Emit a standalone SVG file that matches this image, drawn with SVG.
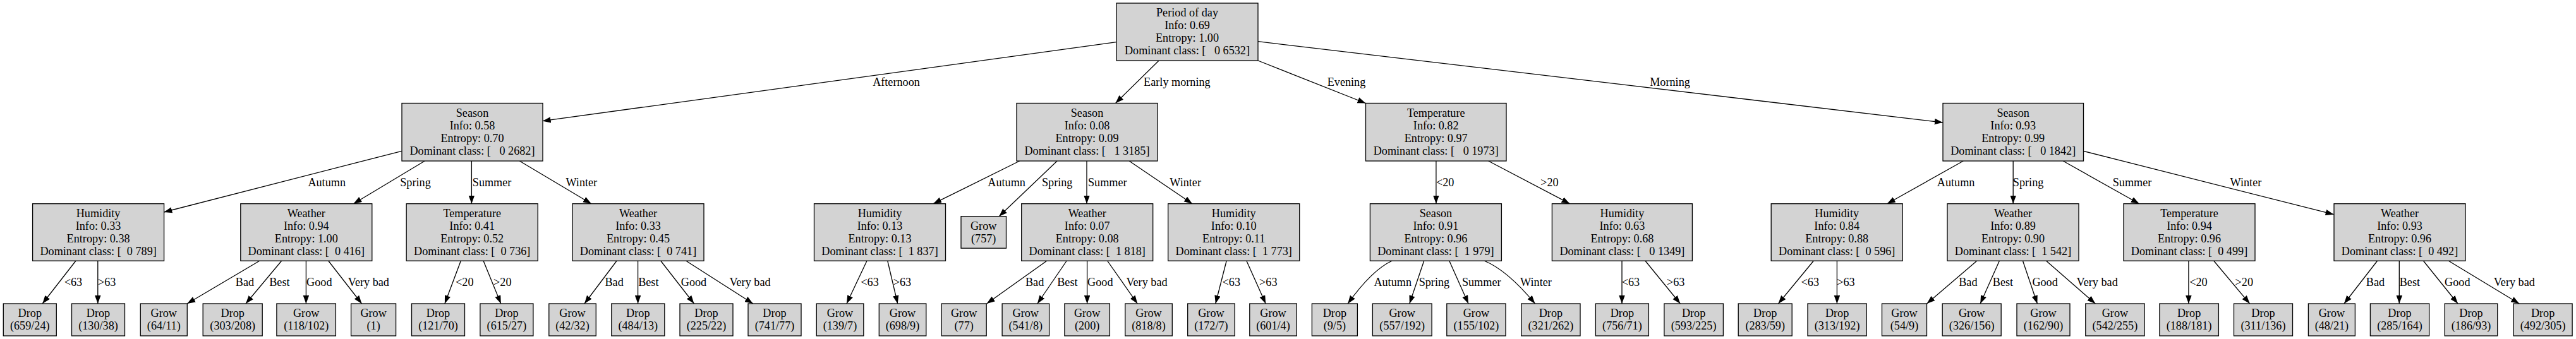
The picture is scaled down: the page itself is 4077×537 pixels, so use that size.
<svg xmlns="http://www.w3.org/2000/svg" width="4077" height="537" viewBox="0 0 4077 537">
<style>
.n rect{fill:#d3d3d3;stroke:#000;stroke-width:1.3}
text{font-family:"Liberation Serif","Times New Roman",serif;font-size:18.2px;text-anchor:middle;fill:#000}
.e path{stroke:#000;stroke-width:1.3;fill:none;marker-end:url(#ah)}
</style>
<defs>
<marker id="ah" markerUnits="userSpaceOnUse" markerWidth="14" markerHeight="10" refX="13" refY="4.75" orient="auto"><path d="M0,0 L13,4.75 L0,9.5 z" fill="#000"/></marker>
</defs>
<rect width="4077" height="537" fill="#fff"/>
<g id="edges" class="e">
<path d="M1766.8,66.7 L858.7,191.7"/>
<path d="M1833.6,96.5 L1765.5,163.5"/>
<path d="M1991,96 L2161.4,163.5"/>
<path d="M1991,65.7 L3074.8,194"/>
<path d="M635.8,239.3 L259.4,336"/>
<path d="M672.2,255 L559.5,322.7"/>
<path d="M746.4,255 L746.4,322.7"/>
<path d="M822.3,255 L935.9,322.7"/>
<path d="M120.1,413 L67.2,481"/>
<path d="M154.8,413 L154.8,481"/>
<path d="M411.1,413 L296.2,481"/>
<path d="M445.8,413 L389,481"/>
<path d="M484.4,413 L484.4,481"/>
<path d="M519.6,413 L572.5,481"/>
<path d="M729.4,413 L703.9,481"/>
<path d="M765,413 L792.8,481"/>
<path d="M976.2,413 L925,481"/>
<path d="M1009.6,413 L1009.6,481"/>
<path d="M1045.6,413 L1098.5,481"/>
<path d="M1085.5,413 L1191.8,481"/>
<path d="M1613.7,255 L1477.1,322.7"/>
<path d="M1673.1,255 L1581.2,342.7"/>
<path d="M1720,255 L1720,322.7"/>
<path d="M1787.2,255 L1887,322.7"/>
<path d="M1372.1,413 L1340,481"/>
<path d="M1404.7,413 L1420.7,481"/>
<path d="M1657,413 L1561.7,481"/>
<path d="M1688.3,413 L1641.9,481"/>
<path d="M1720.6,413 L1720.6,481"/>
<path d="M1752.5,413 L1800.2,481"/>
<path d="M1941.2,413 L1923.8,481"/>
<path d="M1972.8,413 L2003.2,481"/>
<path d="M2272.9,255 L2272.9,322.7"/>
<path d="M2355.7,255 L2484.5,322.7"/>
<path d="M2203.5,413 Q2171.6,427.4 2133.2,481"/>
<path d="M2253.8,413 L2230.8,481"/>
<path d="M2293.7,413 L2324,481"/>
<path d="M2348.8,413 Q2384.9,427.4 2429.5,481"/>
<path d="M2567,413 L2567,481"/>
<path d="M2603.8,413 L2659.3,481"/>
<path d="M3107.3,255 L2986.7,322.7"/>
<path d="M3186.2,255 L3186.2,322.7"/>
<path d="M3265.2,255 L3385.7,322.7"/>
<path d="M3297.3,239.3 L3693.6,339.7"/>
<path d="M2870.5,413 L2814.5,481"/>
<path d="M2907.4,413 L2907.4,481"/>
<path d="M3129,413 L3049.6,481"/>
<path d="M3164.5,413 L3134.2,481"/>
<path d="M3201.4,413 L3224.4,481"/>
<path d="M3238.3,413 L3316.3,481"/>
<path d="M3463.9,413 L3463.9,481"/>
<path d="M3503.6,413 L3560.6,481"/>
<path d="M3762.7,413 L3710,481"/>
<path d="M3797.3,413 L3797.3,481"/>
<path d="M3835.3,413 L3890,481"/>
<path d="M3875,413 L3987.2,481"/>
</g>
<g id="edge-labels">
<text x="1418.5" y="135.5">Afternoon</text>
<text x="1862.9" y="135.5">Early morning</text>
<text x="2131" y="135.5">Evening</text>
<text x="2643" y="135.5">Morning</text>
<text x="517.2" y="295">Autumn</text>
<text x="657.5" y="295">Spring</text>
<text x="778.6" y="295">Summer</text>
<text x="920.3" y="295">Winter</text>
<text x="1593.1" y="295">Autumn</text>
<text x="1673.2" y="295">Spring</text>
<text x="1752.8" y="295">Summer</text>
<text x="1876.1" y="295">Winter</text>
<text x="2287.2" y="295">&lt;20</text>
<text x="2452.5" y="295">&gt;20</text>
<text x="3095.6" y="295">Autumn</text>
<text x="3210.1" y="295">Spring</text>
<text x="3374.5" y="295">Summer</text>
<text x="3554.4" y="295">Winter</text>
<text x="116" y="452.5">&lt;63</text>
<text x="169.2" y="452.5">&gt;63</text>
<text x="387.5" y="452.5">Bad</text>
<text x="442.4" y="452.5">Best</text>
<text x="505.3" y="452.5">Good</text>
<text x="583.4" y="452.5">Very bad</text>
<text x="735.3" y="452.5">&lt;20</text>
<text x="795.3" y="452.5">&gt;20</text>
<text x="972.1" y="452.5">Bad</text>
<text x="1026.3" y="452.5">Best</text>
<text x="1098" y="452.5">Good</text>
<text x="1187" y="452.5">Very bad</text>
<text x="1376.6" y="452.5">&lt;63</text>
<text x="1427.9" y="452.5">&gt;63</text>
<text x="1637.6" y="452.5">Bad</text>
<text x="1689.4" y="452.5">Best</text>
<text x="1741.3" y="452.5">Good</text>
<text x="1815" y="452.5">Very bad</text>
<text x="1948.8" y="452.5">&lt;63</text>
<text x="2007.3" y="452.5">&gt;63</text>
<text x="2204.2" y="452.5">Autumn</text>
<text x="2269.9" y="452.5">Spring</text>
<text x="2344.7" y="452.5">Summer</text>
<text x="2431" y="452.5">Winter</text>
<text x="2581" y="452.5">&lt;63</text>
<text x="2652.2" y="452.5">&gt;63</text>
<text x="2864.8" y="452.5">&lt;63</text>
<text x="2921.5" y="452.5">&gt;63</text>
<text x="3114.9" y="452.5">Bad</text>
<text x="3170" y="452.5">Best</text>
<text x="3236.6" y="452.5">Good</text>
<text x="3319.2" y="452.5">Very bad</text>
<text x="3479.5" y="452.5">&lt;20</text>
<text x="3551.8" y="452.5">&gt;20</text>
<text x="3759.5" y="452.5">Bad</text>
<text x="3813.9" y="452.5">Best</text>
<text x="3889.3" y="452.5">Good</text>
<text x="3979.3" y="452.5">Very bad</text>
</g>
<g id="root" class="n"><rect x="1767" y="5" width="224" height="91"/><text x="1879" y="26">Period of day</text><text x="1879" y="46">Info: 0.69</text><text x="1879" y="66">Entropy: 1.00</text><text x="1879" y="86" xml:space="preserve">Dominant class: [   0 6532]</text></g>
<g id="n_aft" class="n"><rect x="636" y="163.5" width="223" height="91.5"/><text x="747.5" y="184.7">Season</text><text x="747.5" y="204.7">Info: 0.58</text><text x="747.5" y="224.7">Entropy: 0.70</text><text x="747.5" y="244.7" xml:space="preserve">Dominant class: [   0 2682]</text></g>
<g id="n_em" class="n"><rect x="1609" y="163.5" width="223" height="91.5"/><text x="1720.5" y="184.7">Season</text><text x="1720.5" y="204.7">Info: 0.08</text><text x="1720.5" y="224.7">Entropy: 0.09</text><text x="1720.5" y="244.7" xml:space="preserve">Dominant class: [   1 3185]</text></g>
<g id="n_eve" class="n"><rect x="2161.5" y="163.5" width="222.5" height="91.5"/><text x="2272.7" y="184.7">Temperature</text><text x="2272.7" y="204.7">Info: 0.82</text><text x="2272.7" y="224.7">Entropy: 0.97</text><text x="2272.7" y="244.7" xml:space="preserve">Dominant class: [   0 1973]</text></g>
<g id="n_mor" class="n"><rect x="3075" y="163.5" width="222.5" height="91.5"/><text x="3186.2" y="184.7">Season</text><text x="3186.2" y="204.7">Info: 0.93</text><text x="3186.2" y="224.7">Entropy: 0.99</text><text x="3186.2" y="244.7" xml:space="preserve">Dominant class: [   0 1842]</text></g>
<g id="n_a1" class="n"><rect x="51.6" y="322.7" width="208" height="90.5"/><text x="155.6" y="343.5">Humidity</text><text x="155.6" y="363.5">Info: 0.33</text><text x="155.6" y="383.5">Entropy: 0.38</text><text x="155.6" y="403.5" xml:space="preserve">Dominant class: [  0 789]</text></g>
<g id="n_a2" class="n"><rect x="380.8" y="322.7" width="208" height="90.5"/><text x="484.8" y="343.5">Weather</text><text x="484.8" y="363.5">Info: 0.94</text><text x="484.8" y="383.5">Entropy: 1.00</text><text x="484.8" y="403.5" xml:space="preserve">Dominant class: [  0 416]</text></g>
<g id="n_a3" class="n"><rect x="643.2" y="322.7" width="208" height="90.5"/><text x="747.2" y="343.5">Temperature</text><text x="747.2" y="363.5">Info: 0.41</text><text x="747.2" y="383.5">Entropy: 0.52</text><text x="747.2" y="403.5" xml:space="preserve">Dominant class: [  0 736]</text></g>
<g id="n_a4" class="n"><rect x="906" y="322.7" width="208" height="90.5"/><text x="1010" y="343.5">Weather</text><text x="1010" y="363.5">Info: 0.33</text><text x="1010" y="383.5">Entropy: 0.45</text><text x="1010" y="403.5" xml:space="preserve">Dominant class: [  0 741]</text></g>
<g id="n_e1" class="n"><rect x="1288.5" y="322.7" width="208" height="90.5"/><text x="1392.5" y="343.5">Humidity</text><text x="1392.5" y="363.5">Info: 0.13</text><text x="1392.5" y="383.5">Entropy: 0.13</text><text x="1392.5" y="403.5" xml:space="preserve">Dominant class: [  1 837]</text></g>
<g id="n_e2" class="n"><rect x="1521" y="342.7" width="71.5" height="50.5"/><text x="1556.7" y="363.5">Grow</text><text x="1556.7" y="383.5">(757)</text></g>
<g id="n_e3" class="n"><rect x="1616.7" y="322.7" width="208" height="90.5"/><text x="1720.7" y="343.5">Weather</text><text x="1720.7" y="363.5">Info: 0.07</text><text x="1720.7" y="383.5">Entropy: 0.08</text><text x="1720.7" y="403.5" xml:space="preserve">Dominant class: [  1 818]</text></g>
<g id="n_e4" class="n"><rect x="1848.7" y="322.7" width="208" height="90.5"/><text x="1952.7" y="343.5">Humidity</text><text x="1952.7" y="363.5">Info: 0.10</text><text x="1952.7" y="383.5">Entropy: 0.11</text><text x="1952.7" y="403.5" xml:space="preserve">Dominant class: [  1 773]</text></g>
<g id="n_v1" class="n"><rect x="2168.4" y="322.7" width="208" height="90.5"/><text x="2272.4" y="343.5">Season</text><text x="2272.4" y="363.5">Info: 0.91</text><text x="2272.4" y="383.5">Entropy: 0.96</text><text x="2272.4" y="403.5" xml:space="preserve">Dominant class: [  1 979]</text></g>
<g id="n_v2" class="n"><rect x="2456.4" y="322.7" width="222" height="90.5"/><text x="2567.4" y="343.5">Humidity</text><text x="2567.4" y="363.5">Info: 0.63</text><text x="2567.4" y="383.5">Entropy: 0.68</text><text x="2567.4" y="403.5" xml:space="preserve">Dominant class: [   0 1349]</text></g>
<g id="n_m1" class="n"><rect x="2803.2" y="322.7" width="208" height="90.5"/><text x="2907.2" y="343.5">Humidity</text><text x="2907.2" y="363.5">Info: 0.84</text><text x="2907.2" y="383.5">Entropy: 0.88</text><text x="2907.2" y="403.5" xml:space="preserve">Dominant class: [  0 596]</text></g>
<g id="n_m2" class="n"><rect x="3082" y="322.7" width="208" height="90.5"/><text x="3186" y="343.5">Weather</text><text x="3186" y="363.5">Info: 0.89</text><text x="3186" y="383.5">Entropy: 0.90</text><text x="3186" y="403.5" xml:space="preserve">Dominant class: [  1 542]</text></g>
<g id="n_m3" class="n"><rect x="3361" y="322.7" width="208" height="90.5"/><text x="3465" y="343.5">Temperature</text><text x="3465" y="363.5">Info: 0.94</text><text x="3465" y="383.5">Entropy: 0.96</text><text x="3465" y="403.5" xml:space="preserve">Dominant class: [  0 499]</text></g>
<g id="n_m4" class="n"><rect x="3694" y="322.7" width="208" height="90.5"/><text x="3798" y="343.5">Weather</text><text x="3798" y="363.5">Info: 0.93</text><text x="3798" y="383.5">Entropy: 0.96</text><text x="3798" y="403.5" xml:space="preserve">Dominant class: [  0 492]</text></g>
<g id="l01" class="n"><rect x="5.3" y="481" width="84" height="51"/><text x="47.3" y="502">Drop</text><text x="47.3" y="522">(659/24)</text></g>
<g id="l02" class="n"><rect x="113.5" y="481" width="84" height="51"/><text x="155.5" y="502">Drop</text><text x="155.5" y="522">(130/38)</text></g>
<g id="l03" class="n"><rect x="222.3" y="481" width="74" height="51"/><text x="259.3" y="502">Grow</text><text x="259.3" y="522">(64/11)</text></g>
<g id="l04" class="n"><rect x="321.2" y="481" width="94" height="51"/><text x="368.2" y="502">Drop</text><text x="368.2" y="522">(303/208)</text></g>
<g id="l05" class="n"><rect x="437.9" y="481" width="93.5" height="51"/><text x="484.7" y="502">Grow</text><text x="484.7" y="522">(118/102)</text></g>
<g id="l06" class="n"><rect x="555.6" y="481" width="71" height="51"/><text x="591.1" y="502">Grow</text><text x="591.1" y="522">(1)</text></g>
<g id="l07" class="n"><rect x="651.5" y="481" width="84" height="51"/><text x="693.5" y="502">Drop</text><text x="693.5" y="522">(121/70)</text></g>
<g id="l08" class="n"><rect x="759.9" y="481" width="84" height="51"/><text x="801.9" y="502">Drop</text><text x="801.9" y="522">(615/27)</text></g>
<g id="l09" class="n"><rect x="868.8" y="481" width="74.5" height="51"/><text x="906" y="502">Grow</text><text x="906" y="522">(42/32)</text></g>
<g id="l10" class="n"><rect x="967.8" y="481" width="84" height="51"/><text x="1009.8" y="502">Drop</text><text x="1009.8" y="522">(484/13)</text></g>
<g id="l11" class="n"><rect x="1076" y="481" width="84" height="51"/><text x="1118" y="502">Drop</text><text x="1118" y="522">(225/22)</text></g>
<g id="l12" class="n"><rect x="1184" y="481" width="84" height="51"/><text x="1226" y="502">Drop</text><text x="1226" y="522">(741/77)</text></g>
<g id="l13" class="n"><rect x="1292.3" y="481" width="74.5" height="51"/><text x="1329.5" y="502">Grow</text><text x="1329.5" y="522">(139/7)</text></g>
<g id="l14" class="n"><rect x="1391.3" y="481" width="74.5" height="51"/><text x="1428.5" y="502">Grow</text><text x="1428.5" y="522">(698/9)</text></g>
<g id="l15" class="n"><rect x="1490.2" y="481" width="71" height="51"/><text x="1525.7" y="502">Grow</text><text x="1525.7" y="522">(77)</text></g>
<g id="l16" class="n"><rect x="1586.1" y="481" width="74.5" height="51"/><text x="1623.3" y="502">Grow</text><text x="1623.3" y="522">(541/8)</text></g>
<g id="l17" class="n"><rect x="1684.9" y="481" width="71.5" height="51"/><text x="1720.6" y="502">Grow</text><text x="1720.6" y="522">(200)</text></g>
<g id="l18" class="n"><rect x="1780.8" y="481" width="74.5" height="51"/><text x="1818" y="502">Grow</text><text x="1818" y="522">(818/8)</text></g>
<g id="l19" class="n"><rect x="1879.7" y="481" width="74.5" height="51"/><text x="1916.9" y="502">Grow</text><text x="1916.9" y="522">(172/7)</text></g>
<g id="l20" class="n"><rect x="1977.8" y="481" width="74.5" height="51"/><text x="2015" y="502">Grow</text><text x="2015" y="522">(601/4)</text></g>
<g id="l21" class="n"><rect x="2076.4" y="481" width="72" height="51"/><text x="2112.4" y="502">Drop</text><text x="2112.4" y="522">(9/5)</text></g>
<g id="l22" class="n"><rect x="2172.4" y="481" width="93.7" height="51"/><text x="2219.2" y="502">Grow</text><text x="2219.2" y="522">(557/192)</text></g>
<g id="l23" class="n"><rect x="2289.8" y="481" width="93.2" height="51"/><text x="2336.4" y="502">Grow</text><text x="2336.4" y="522">(155/102)</text></g>
<g id="l24" class="n"><rect x="2407.8" y="481" width="93.2" height="51"/><text x="2454.4" y="502">Drop</text><text x="2454.4" y="522">(321/262)</text></g>
<g id="l25" class="n"><rect x="2525.4" y="481" width="84" height="51"/><text x="2567.4" y="502">Drop</text><text x="2567.4" y="522">(756/71)</text></g>
<g id="l26" class="n"><rect x="2633.9" y="481" width="93.5" height="51"/><text x="2680.6" y="502">Drop</text><text x="2680.6" y="522">(593/225)</text></g>
<g id="l27" class="n"><rect x="2751.2" y="481" width="85" height="51"/><text x="2793.7" y="502">Drop</text><text x="2793.7" y="522">(283/59)</text></g>
<g id="l28" class="n"><rect x="2861" y="481" width="93.2" height="51"/><text x="2907.6" y="502">Drop</text><text x="2907.6" y="522">(313/192)</text></g>
<g id="l29" class="n"><rect x="2978.5" y="481" width="71" height="51"/><text x="3014" y="502">Grow</text><text x="3014" y="522">(54/9)</text></g>
<g id="l30" class="n"><rect x="3074.2" y="481" width="93" height="51"/><text x="3120.7" y="502">Grow</text><text x="3120.7" y="522">(326/156)</text></g>
<g id="l31" class="n"><rect x="3192" y="481" width="84" height="51"/><text x="3234" y="502">Grow</text><text x="3234" y="522">(162/90)</text></g>
<g id="l32" class="n"><rect x="3300.8" y="481" width="93.3" height="51"/><text x="3347.4" y="502">Grow</text><text x="3347.4" y="522">(542/255)</text></g>
<g id="l33" class="n"><rect x="3417.9" y="481" width="93.5" height="51"/><text x="3464.6" y="502">Drop</text><text x="3464.6" y="522">(188/181)</text></g>
<g id="l34" class="n"><rect x="3535.5" y="481" width="93" height="51"/><text x="3582" y="502">Drop</text><text x="3582" y="522">(311/136)</text></g>
<g id="l35" class="n"><rect x="3653.4" y="481" width="74" height="51"/><text x="3690.4" y="502">Grow</text><text x="3690.4" y="522">(48/21)</text></g>
<g id="l36" class="n"><rect x="3751.4" y="481" width="93.3" height="51"/><text x="3798" y="502">Drop</text><text x="3798" y="522">(285/164)</text></g>
<g id="l37" class="n"><rect x="3869.2" y="481" width="83.5" height="51"/><text x="3911" y="502">Drop</text><text x="3911" y="522">(186/93)</text></g>
<g id="l38" class="n"><rect x="3978.1" y="481" width="93" height="51"/><text x="4024.6" y="502">Drop</text><text x="4024.6" y="522">(492/305)</text></g>
</svg>
